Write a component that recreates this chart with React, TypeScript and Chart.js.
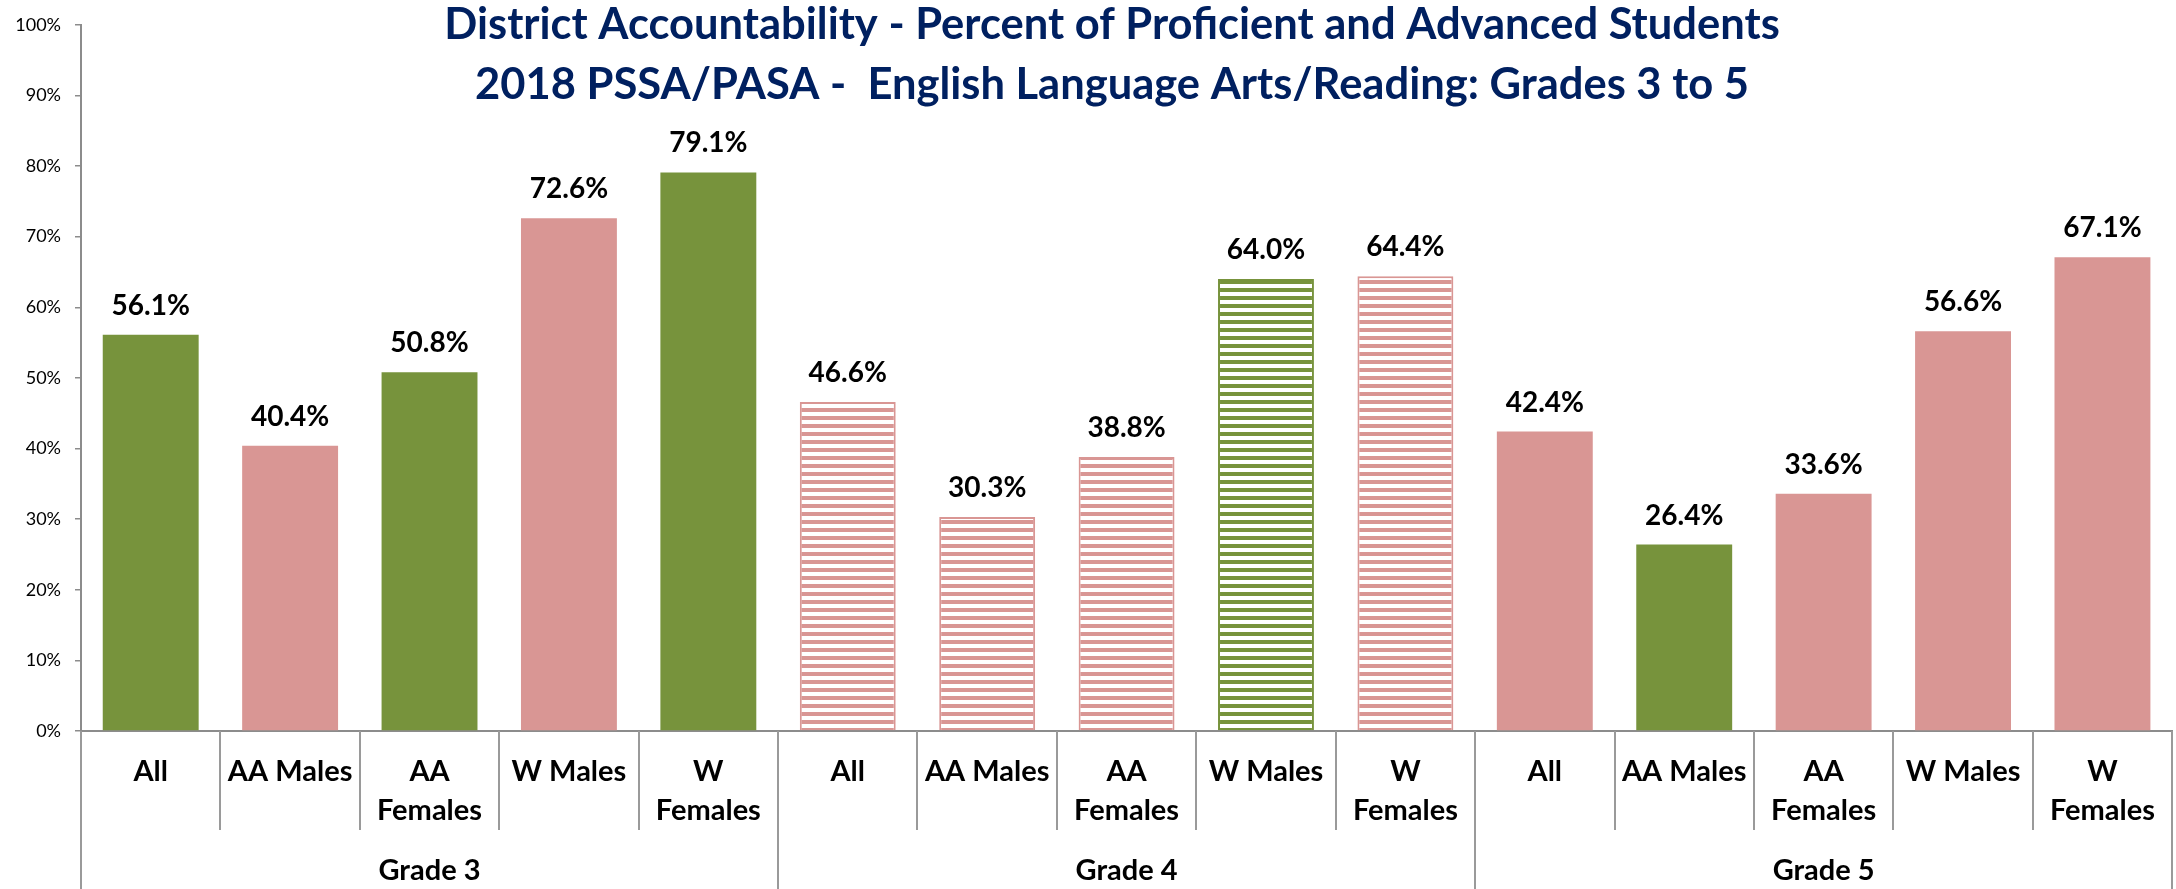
import React, { useEffect, useRef } from "react";
import { Chart, registerables } from "chart.js";

Chart.register(...registerables);

const titleLines = [
  "District Accountability - Percent of Proficient and Advanced Students",
  "2018 PSSA/PASA -  English Language Arts/Reading: Grades 3 to 5",
];
const grades = ["Grade 3", "Grade 4", "Grade 5"];
const groups: string[][] = [["All"], ["AA Males"], ["AA", "Females"], ["W Males"], ["W", "Females"]];
const grade3Values = [56.1, 40.4, 50.8, 72.6, 79.1];
const grade4Values = [46.6, 30.3, 38.8, 64.0, 64.4];
const grade5Values = [42.4, 26.4, 33.6, 56.6, 67.1];
const yTicks = [0, 10, 20, 30, 40, 50, 60, 70, 80, 90, 100];

// style flags (not data): tone g = green, p = pink ; striped grade 4
const grade3Tone = ["g", "p", "g", "p", "g"];
const grade4Tone = ["p", "p", "p", "g", "p"];
const grade5Tone = ["p", "g", "p", "p", "p"];
const gradeStriped = [false, true, false];

const GREEN = "#77933C";
const PINK = "#D99694";
const AXIS = "#8c8c8c";

function makeStripe(color: string): CanvasPattern | string {
  const c = document.createElement("canvas");
  c.width = 8;
  c.height = 8;
  const g = c.getContext("2d");
  if (!g) return color;
  g.fillStyle = "#ffffff";
  g.fillRect(0, 0, 8, 8);
  g.fillStyle = color;
  g.fillRect(0, 0, 8, 4);
  const p = g.createPattern(c, "repeat");
  return p || color;
}

export default function App() {
  const ref = useRef<HTMLCanvasElement | null>(null);

  useEffect(() => {
    document.body.style.margin = "0";
    document.body.style.overflow = "hidden";
    const canvas = ref.current;
    if (!canvas) return;

    const values = [...grade3Values, ...grade4Values, ...grade5Values];
    const tones = [grade3Tone, grade4Tone, grade5Tone];
    const labels: string[][] = [];
    const bg: (string | CanvasPattern)[] = [];
    const border: string[] = [];
    const bw: number[] = [];
    const stripeG = makeStripe(GREEN);
    const stripeP = makeStripe(PINK);
    grades.forEach((_, gi) => {
      groups.forEach((grp, i) => {
        labels.push(grp);
        const col = tones[gi][i] === "g" ? GREEN : PINK;
        if (gradeStriped[gi]) {
          bg.push(col === GREEN ? stripeG : stripeP);
          bw.push(2);
        } else {
          bg.push(col);
          bw.push(0);
        }
        border.push(col);
      });
    });

    const decor = {
      id: "decor",
      afterDatasetsDraw(chart: any) {
        const ctx = chart.ctx;
        const meta = chart.getDatasetMeta(0);
        ctx.save();
        ctx.font = "bold 28px Lato";
        ctx.fillStyle = "#000";
        ctx.textAlign = "center";
        ctx.textBaseline = "alphabetic";
        meta.data.forEach((el: any, i: number) => {
          ctx.fillText(values[i].toFixed(1) + "%", el.x, el.y - 20);
        });
        ctx.restore();
      },
      afterDraw(chart: any) {
        const ctx = chart.ctx;
        const area = chart.chartArea;
        const xs = chart.scales.x;
        const n = labels.length;
        const step = (area.right - area.left) / n;
        ctx.save();
        ctx.strokeStyle = "#9a9a9a";
        ctx.lineWidth = 2;
        for (let i = 0; i <= n; i++) {
          const x = Math.round(area.left + step * i);
          const isGrade = i % groups.length === 0;
          ctx.beginPath();
          ctx.moveTo(x, area.bottom);
          ctx.lineTo(x, isGrade ? chart.height : area.bottom + 99);
          ctx.stroke();
        }
        ctx.font = "bold 29px Lato";
        ctx.fillStyle = "#000";
        ctx.textAlign = "center";
        ctx.textBaseline = "alphabetic";
        grades.forEach((g, gi) => {
          const a = xs.getPixelForValue(gi * groups.length);
          const b = xs.getPixelForValue(gi * groups.length + groups.length - 1);
          ctx.fillText(g, (a + b) / 2, 880);
        });
        ctx.font = "bold 43.5px Lato";
        ctx.fillStyle = "#002060";
        ctx.fillText(titleLines[0], 1112, 39);
        ctx.fillText(titleLines[1], 1112, 99);
        ctx.restore();
      },
    };

    const chart = new Chart(canvas, {
      type: "bar",
      data: {
        labels,
        datasets: [
          {
            data: values,
            backgroundColor: bg as any,
            borderColor: border,
            borderWidth: bw,
            barPercentage: 0.688,
            categoryPercentage: 1,
          },
        ],
      },
      options: {
        responsive: false,
        animation: false,
        layout: { padding: { top: 21, right: 1, left: 0, bottom: 0 } },
        plugins: { legend: { display: false }, tooltip: { enabled: false }, title: { display: false } },
        scales: {
          x: {
            offset: true,
            grid: { display: false, drawTicks: false },
            border: { display: true, color: AXIS, width: 2 },
            ticks: {
              autoSkip: false,
              maxRotation: 0,
              minRotation: 0,
              padding: 21,
              color: "#000",
              font: { family: "Lato", weight: "bold", size: 29, lineHeight: 1.345 },
            },
            afterFit(scale: any) {
              scale.height = 158;
            },
          },
          y: {
            min: 0,
            max: 100,
            afterBuildTicks(scale: any) {
              scale.ticks = yTicks.map((v) => ({ value: v }));
            },
            grid: { drawOnChartArea: false, drawTicks: true, tickLength: 6, color: AXIS, lineWidth: 1.5 },
            border: { display: true, color: AXIS, width: 2 },
            ticks: {
              padding: 14,
              color: "#000",
              font: { family: "Lato", size: 18 },
              callback: (v: any) => v + "%",
            },
            afterFit(scale: any) {
              scale.width = 81;
            },
          },
        },
      },
      plugins: [decor],
    });
    return () => chart.destroy();
  }, []);

  return <canvas ref={ref} width={2176} height={889} style={{ display: "block" }} />;
}
